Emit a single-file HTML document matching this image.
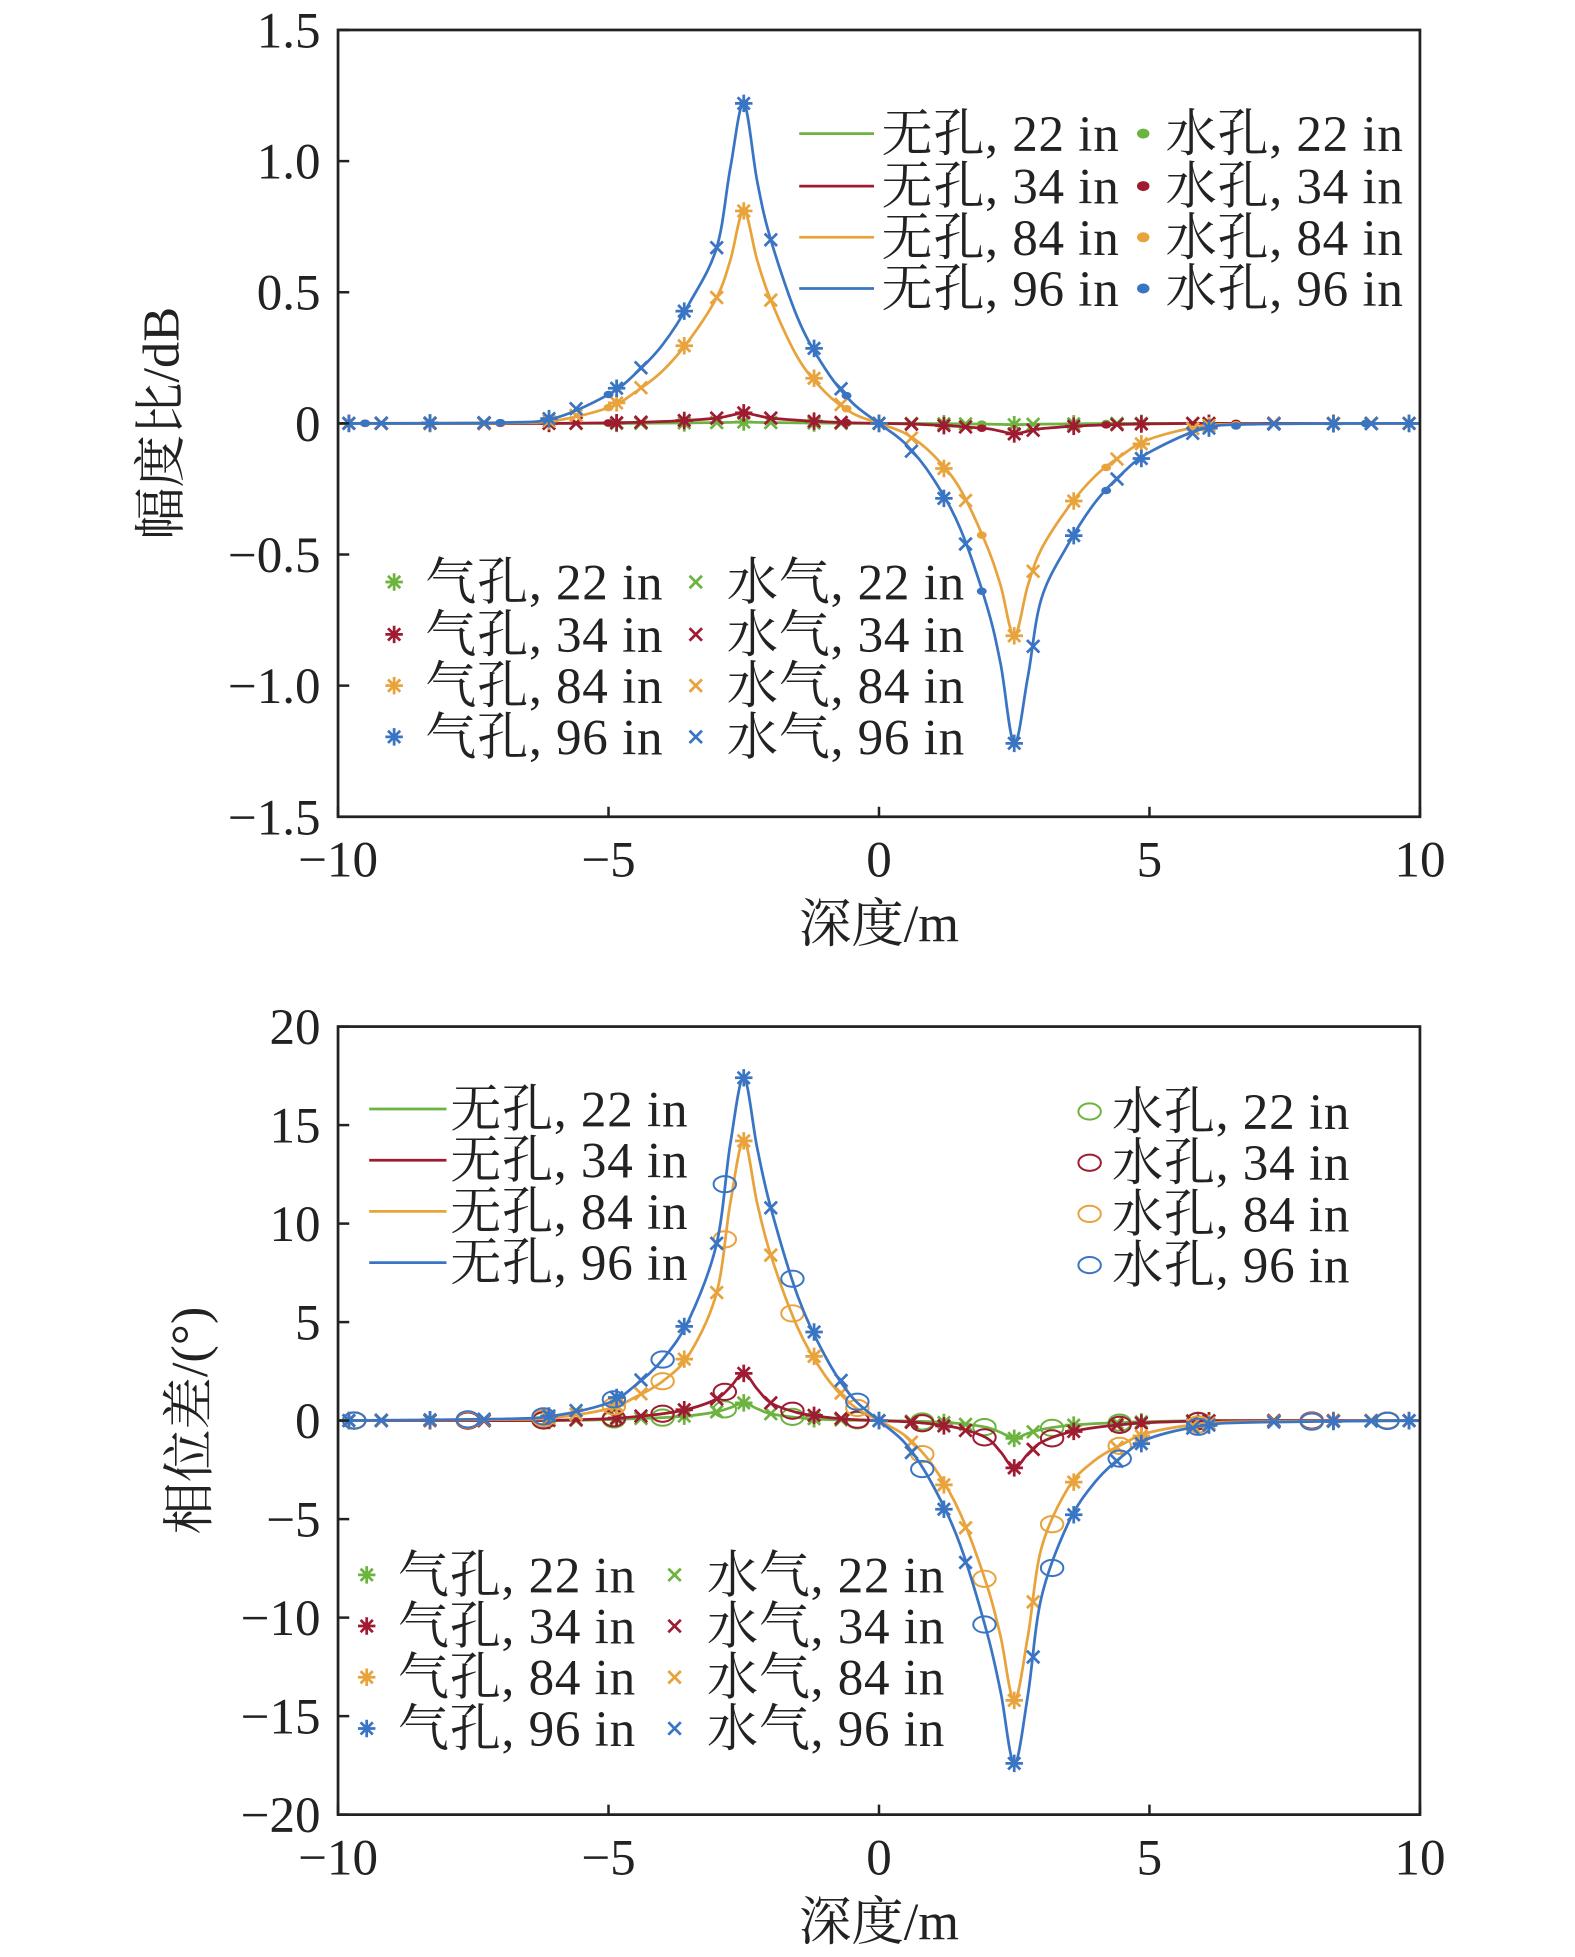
<!DOCTYPE html>
<html><head><meta charset="utf-8"><style>
html,body{margin:0;padding:0;background:#fff;}
svg{display:block;}
text{font-family:"Liberation Serif","Noto Serif CJK SC",serif;fill:#222;}
</style></head><body>
<svg id="chart" width="1575" height="1957" viewBox="-1.2 0 1263.6 1567" preserveAspectRatio="none" xmlns="http://www.w3.org/2000/svg">
<g id="p1"></g>
<g id="p2"></g>
</svg>
<script>
const depths = [-10,-7,-6,-5,-4.5,-4,-3.5,-3,-2.75,-2.5,-2.25,-2,-1.5,-1,-0.5,0,0.5,1,1.5,2,2.25,2.5,2.75,3,3.5,4,4.5,5,6,7,10];
const seriesNames = ['22 in','34 in','84 in','96 in'];
const colors = ['#6db33f','#9e1b32','#e8a33c','#3a75c4'];
const amp22 = [0,0,0,0,0,0.001,0.002,0.003,0.004,0.005,0.004,0.003,0.002,0.001,0,0,0,-0.001,-0.002,-0.003,-0.004,-0.005,-0.004,-0.003,-0.002,-0.001,0,0,0,0,0];
const amp34 = [0,0,0,0.002,0.004,0.007,0.012,0.02,0.03,0.04,0.03,0.02,0.012,0.006,0.002,0,-0.002,-0.006,-0.012,-0.02,-0.03,-0.04,-0.03,-0.02,-0.012,-0.007,-0.004,-0.002,0,0,0];
const amp84 = [0,0.002,0.01,0.06,0.12,0.2,0.32,0.48,0.62,0.81,0.62,0.47,0.25,0.12,0.04,0,-0.04,-0.12,-0.25,-0.47,-0.62,-0.81,-0.62,-0.48,-0.32,-0.2,-0.12,-0.06,-0.01,-0.002,0];
const amp96 = [0,0.003,0.02,0.11,0.19,0.3,0.46,0.67,0.97,1.22,0.92,0.7,0.4,0.21,0.08,0,-0.08,-0.21,-0.4,-0.7,-0.92,-1.22,-0.97,-0.67,-0.46,-0.3,-0.19,-0.11,-0.02,-0.003,0];
const ph22 = [0,0,0,0.05,0.1,0.15,0.25,0.45,0.65,0.9,0.6,0.35,0.15,0.06,0.02,0,-0.02,-0.06,-0.15,-0.35,-0.6,-0.9,-0.65,-0.45,-0.25,-0.15,-0.1,-0.05,0,0,0];
const ph34 = [0,0,0.02,0.1,0.2,0.35,0.6,1.1,1.7,2.4,1.6,0.9,0.4,0.18,0.06,0,-0.06,-0.18,-0.4,-0.9,-1.6,-2.4,-1.7,-1.1,-0.6,-0.35,-0.2,-0.1,-0.02,0,0];
const ph84 = [0,0.05,0.15,0.6,1.2,2.0,3.4,6.5,11.0,14.2,11.0,8.4,4.7,2.3,0.8,0,-0.8,-2.3,-4.7,-8.4,-11.0,-14.2,-11.0,-6.5,-3.4,-2.0,-1.2,-0.6,-0.15,-0.05,0];
const ph96 = [0,0.08,0.25,0.9,1.8,3.1,5.2,9.0,14.0,17.4,13.8,10.8,6.3,3.3,1.2,0,-1.2,-3.3,-6.3,-10.8,-13.8,-17.4,-14.0,-9.0,-5.2,-3.1,-1.8,-0.9,-0.25,-0.08,0];
const xTicks = [-10,-5,0,5,10];
const ampTicks = [1.5,1.0,0.5,0,-0.5,-1.0,-1.5];
const ampTickLabels = ['1.5','1.0','0.5','0','\u22120.5','\u22121.0','\u22121.5'];
const phTicks = [20,15,10,5,0,-5,-10,-15,-20];
const phTickLabels = ['20','15','10','5','0','\u22125','\u221210','\u221215','\u221220'];
const starDepths = [-9.8,-8.3,-6.1,-4.85,-3.6,-2.5,-1.2,0,1.2,2.5,3.6,4.85,6.1,8.4,9.8];
const crossDepths = [-9.2,-7.3,-5.6,-4.4,-3.0,-2.0,-0.7,0.6,1.6,2.85,4.4,5.8,7.3,9.1];
const circleDepths = [-9.7,-7.6,-6.2,-4.9,-4.0,-2.85,-1.6,-0.4,0.8,1.95,3.2,4.45,5.9,8.0,9.4];
const dotDepths = [-9.5,-7.0,-5.0,-2.5,-0.6,1.9,4.2,6.6,9.0];
const NS='http://www.w3.org/2000/svg';
function mk(p,tag,at){const e=document.createElementNS(NS,tag);for(const k in at)e.setAttribute(k,at[k]);p.appendChild(e);return e;}
function interp(ys,d){for(let i=0;i<depths.length-1;i++){if(d>=depths[i]&&d<=depths[i+1]){const t=(d-depths[i])/(depths[i+1]-depths[i]);return ys[i]+t*(ys[i+1]-ys[i]);}}return 0;}
function smooth(pts){let s='M'+pts[0][0]+','+pts[0][1];for(let i=0;i<pts.length-1;i++){const p0=pts[Math.max(0,i-1)],p1=pts[i],p2=pts[i+1],p3=pts[Math.min(pts.length-1,i+2)];
 const c1=[p1[0]+(p2[0]-p0[0])/6,p1[1]+(p2[1]-p0[1])/6],c2=[p2[0]-(p3[0]-p1[0])/6,p2[1]-(p3[1]-p1[1])/6];
 s+=' C'+c1[0].toFixed(1)+','+c1[1].toFixed(1)+' '+c2[0].toFixed(1)+','+c2[1].toFixed(1)+' '+p2[0].toFixed(1)+','+p2[1].toFixed(1);}return s;}
function star(g,x,y,c,r){return mk(g,'path',{d:`M${x-r},${y}H${x+r}M${x},${y-r}V${y+r}M${x-r*0.7},${y-r*0.7}L${x+r*0.7},${y+r*0.7}M${x-r*0.7},${y+r*0.7}L${x+r*0.7},${y-r*0.7}`,stroke:c,'stroke-width':2.2,fill:'none'});}
function cross(g,x,y,c,r){return mk(g,'path',{d:`M${x-r},${y-r}L${x+r},${y+r}M${x-r},${y+r}L${x+r},${y-r}`,stroke:c,'stroke-width':2.2,fill:'none'});}
function panel(g,top,bot,ymin,ymax,series,ticks,tlabels,ylabel,yLabelX,useCircles){
 const L=270,R=1138;const X=d=>L+(d+10)/20*(R-L);const Y=v=>bot-(v-ymin)/(ymax-ymin)*(bot-top);
 series.forEach((ys,si)=>{const pts=depths.map((d,i)=>[X(d),Y(ys[i])]);
  const p=mk(g,'path',{d:smooth(pts),fill:'none',stroke:colors[si],'stroke-width':2.2});
  
  
  starDepths.forEach(d=>{const s=star(g,X(d),Y(interp(ys,d)),colors[si],7);
   
   });
  crossDepths.forEach(d=>{const s=cross(g,X(d),Y(interp(ys,d)),colors[si],5);
   
   });
  if(useCircles){circleDepths.forEach(d=>{const c=mk(g,'ellipse',{cx:X(d),cy:Y(interp(ys,d)),rx:9,ry:6.5,fill:'none',stroke:colors[si],'stroke-width':1.6});
   
   });}
  else{dotDepths.forEach(d=>{const c=mk(g,'ellipse',{cx:X(d),cy:Y(interp(ys,d)),rx:4,ry:3,fill:colors[si]});
   
   });}
 });
 const f=mk(g,'rect',{x:L,y:top,width:R-L,height:bot-top,fill:'none',stroke:'#222','stroke-width':2.2});
 
 
 xTicks.forEach(d=>{mk(g,'line',{x1:X(d),x2:X(d),y1:bot,y2:bot-8,stroke:'#222','stroke-width':2});
  const t=mk(g,'text',{x:X(d),y:bot+48,'font-size':41,'text-anchor':'middle'});t.textContent=d<0?'\u2212'+(-d):String(d);
  
  });
 ticks.forEach((v,i)=>{mk(g,'line',{x1:L,x2:L+9,y1:Y(v),y2:Y(v),stroke:'#222','stroke-width':2});
  const t=mk(g,'text',{x:L-14,y:Y(v)+14,'font-size':41,'text-anchor':'end'});t.textContent=tlabels[i];
  
  });
 const xt=mk(g,'text',{x:704,y:bot+100,'font-size':42,'text-anchor':'middle'});xt.textContent='深度/m';
 
 
 const yt=mk(g,'text',{x:0,y:0,'font-size':42,'text-anchor':'middle',transform:`translate(${yLabelX},${(top+bot)/2}) rotate(-90)`});yt.textContent=ylabel;
 
 
}
function legText(g,x,y,s){const t=mk(g,'text',{x:x,y:y+14,'font-size':41,'letter-spacing':0.6});t.textContent=s;
 
 return t;}
const p1=document.getElementById('p1'),p2=document.getElementById('p2');
panel(p1,24,654,-1.5,1.5,[amp22,amp34,amp84,amp96],ampTicks,ampTickLabels,'幅度比/dB',142,false);
panel(p2,822,1453,-20,20,[ph22,ph34,ph84,ph96],phTicks,phTickLabels,'相位差/(°)',165,true);
[107,149,190,231].forEach((y,i)=>{const l=mk(p1,'line',{x1:640,x2:700,y1:y,y2:y,stroke:colors[i],'stroke-width':2.2});
 
 
 legText(p1,706,y,'无孔, '+seriesNames[i]);
 const d=mk(p1,'ellipse',{cx:916,cy:y,rx:5,ry:4,fill:colors[i]});
 
 
 legText(p1,934,y,'水孔, '+seriesNames[i]);});
[466,508,549,590].forEach((y,i)=>{const s=star(p1,315,y,colors[i],7);
 
 
 legText(p1,340,y,'气孔, '+seriesNames[i]);
 const c=cross(p1,557,y,colors[i],5);
 
 
 legText(p1,582,y,'水气, '+seriesNames[i]);});
[888,929,970,1011].forEach((y,i)=>{const l=mk(p2,'line',{x1:295,x2:357,y1:y,y2:y,stroke:colors[i],'stroke-width':2.2});
 
 
 legText(p2,360,y,'无孔, '+seriesNames[i]);});
[890,931,972,1013].forEach((y,i)=>{const c=mk(p2,'ellipse',{cx:873,cy:y,rx:9,ry:6.5,fill:'none',stroke:colors[i],'stroke-width':1.6});
 
 
 legText(p2,891,y,'水孔, '+seriesNames[i]);});
[1261,1302,1343,1384].forEach((y,i)=>{const s=star(p2,293,y,colors[i],7);
 
 
 legText(p2,318,y,'气孔, '+seriesNames[i]);
 const c=cross(p2,540,y,colors[i],5);
 
 
 legText(p2,566,y,'水气, '+seriesNames[i]);});
</script>
</body></html>
